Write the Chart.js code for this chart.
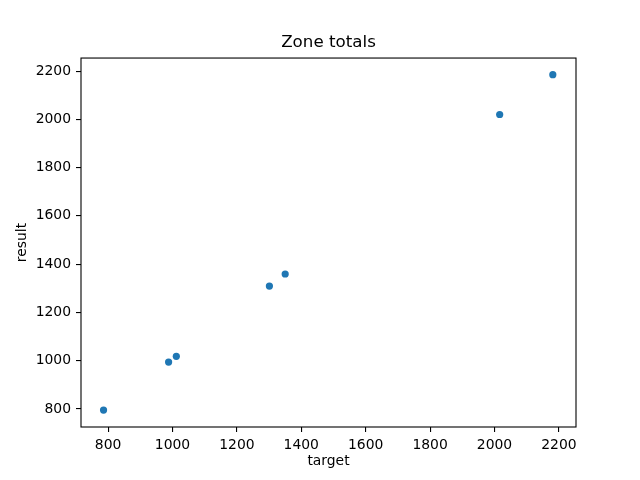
<!DOCTYPE html>
<html>
<head>
<meta charset="utf-8">
<title>Zone totals</title>
<script src="https://cdn.jsdelivr.net/npm/chart.js@4/dist/chart.umd.min.js"></script>
<style>
  html, body { margin: 0; padding: 0; background: #fff; }
  #chart { display: block; }
</style>
</head>
<body>
<canvas id="chart" width="640" height="480"></canvas>
<script>
// --- data ---
const targetValues = [786, 988, 1012, 1301, 1350, 2016, 2181];
const resultValues = [795, 994, 1018, 1309, 1359, 2020, 2185];

const xTicks = [800, 1000, 1200, 1400, 1600, 1800, 2000, 2200];
const yTicks = [800, 1000, 1200, 1400, 1600, 1800, 2000, 2200];

const xRange = [716, 2253];
const yRange = [725, 2254];

const FONT = 'DejaVu Sans';

// matplotlib-style box around the plot area
const frameBox = {
    id: 'frameBox',
    afterDraw(chart) {
        const { ctx, chartArea: a } = chart;
        ctx.save();
        ctx.strokeStyle = '#000';
        ctx.lineWidth = 1.1;
        ctx.strokeRect(a.left, a.top, a.right - a.left, a.bottom - a.top);
        ctx.restore();
    }
};

const axisCommon = (ticks) => ({
    type: 'linear',
    afterBuildTicks: (scale) => { scale.ticks = ticks.map(v => ({ value: v })); },
    grid: { drawOnChartArea: false, drawTicks: true, tickLength: 5, color: '#000', lineWidth: 1.1 },
    border: { display: false },
    ticks: {
        color: '#000', padding: 5, font: { family: FONT, size: 13.9 },
        callback: (v) => String(v)
    }
});

const points = targetValues.map((t, i) => ({ x: t, y: resultValues[i] }));

new Chart(document.getElementById('chart'), {
    type: 'scatter',
    data: {
        datasets: [{
            data: points,
            backgroundColor: '#1f77b4',
            borderColor: '#1f77b4',
            pointRadius: 3.6,
            pointHoverRadius: 3.6,
            borderWidth: 0
        }]
    },
    options: {
        responsive: false,
        animation: false,
        events: [],
        layout: { padding: { top: 0, right: 64, bottom: 0, left: 0 } },
        plugins: {
            legend: { display: false },
            tooltip: { enabled: false },
            title: {
                display: true,
                fullSize: false,
                text: 'Zone totals',
                color: '#000',
                font: { family: FONT, size: 16.7, weight: 'normal' },
                padding: { top: 33, bottom: 5 }
            }
        },
        scales: {
            x: {
                ...axisCommon(xTicks),
                position: 'bottom',
                min: xRange[0],
                max: xRange[1],
                afterFit: (scale) => { scale.height = 53; },
                title: {
                    display: true, text: 'target', color: '#000',
                    font: { family: FONT, size: 13.9 },
                    padding: { top: 0, bottom: 10 }
                }
            },
            y: {
                ...axisCommon(yTicks),
                position: 'left',
                min: yRange[0],
                max: yRange[1],
                afterFit: (scale) => { scale.width = 81; },
                title: {
                    display: true, text: 'result', color: '#000',
                    font: { family: FONT, size: 13.9 },
                    padding: { top: 14, bottom: 0 }
                }
            }
        }
    },
    plugins: [frameBox]
});
</script>
</body>
</html>
